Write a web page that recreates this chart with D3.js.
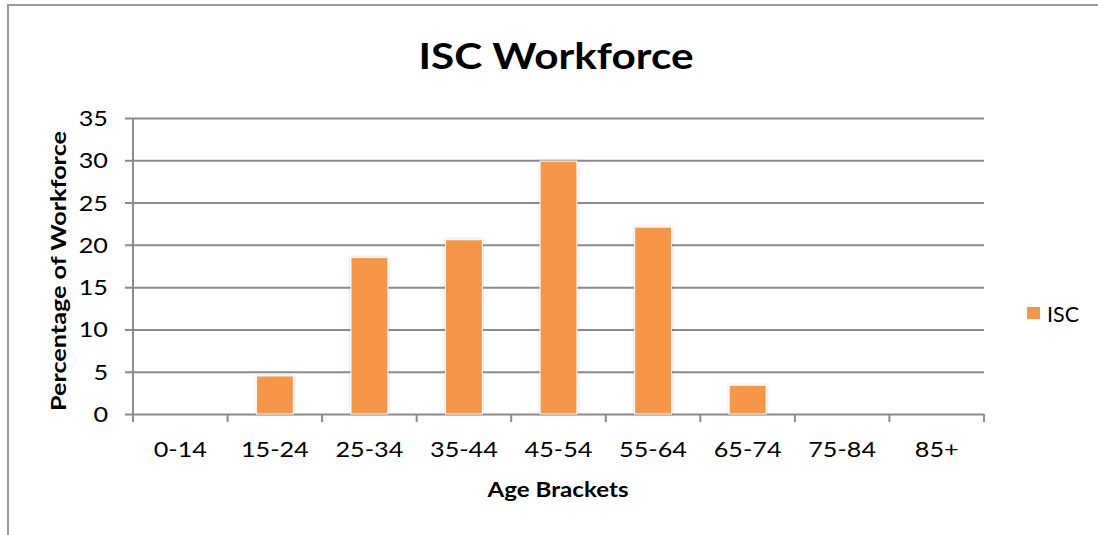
<!DOCTYPE html>
<html>
<head>
<meta charset="utf-8">
<script src="https://cdn.jsdelivr.net/npm/d3@7"></script>
<style>
  body { margin: 0; background: #fff; }
  text { font-family: Lato, "Open Sans", sans-serif; fill: #000; }
</style>
</head>
<body>
<svg id="chart" width="1098" height="535"></svg>
<script>
// data
const categories = ['0-14', '15-24', '25-34', '35-44', '45-54', '55-64', '65-74', '75-84', '85+']
const iscValues = [0, 4.5, 18.5, 20.6, 29.9, 22.1, 3.4, 0, 0]
const yTicks = [0, 5, 10, 15, 20, 25, 30, 35]

const svg = d3.select('#chart')
const margin = { left: 133, right: 1098 - 984, top: 118, bottom: 535 - 414 }
const width = 1098, height = 535
const gridColor = '#8a8a8a'

// the original font runs wider than Lato, so stretch text a bit
function widen(sel, factor) {
  sel.each(function() {
    let len = this.getComputedTextLength()
    d3.select(this).attr('textLength', len * factor).attr('lengthAdjust', 'spacingAndGlyphs')
  })
}

// chart frame
svg.append('path')
  .attr('d', 'M8,540 L8,5 L1110,5')
  .attr('fill', 'none')
  .attr('stroke', '#9a9a9a')
  .attr('stroke-width', 2)

let x = d3.scaleBand()
  .domain(categories)
  .range([margin.left, width - margin.right])
  .paddingInner(0.61)
  .paddingOuter(0.305)

let y = d3.scaleLinear()
  .domain([0, 35])
  .range([height - margin.bottom, margin.top])

// gridlines + y ticks
let yAxis = d3.axisLeft(y).tickValues(yTicks).tickPadding(6)
  .tickSizeInner(-(width - margin.right - margin.left))
svg.append('g')
  .attr('transform', `translate(${margin.left},0)`)
  .call(yAxis)
  .call(g => g.select('.domain').remove())
  .call(g => g.selectAll('.tick line').attr('stroke', gridColor).attr('stroke-width', 2)
    .attr('x1', -8))
  .call(g => g.selectAll('.tick text').attr('font-size', 21).attr('x', -25).attr('dy', '0.36em')
    .attr('font-family', 'Lato, sans-serif'))
  .call(g => widen(g.selectAll('.tick text'), 1.2))

// vertical axis line
svg.append('line')
  .attr('x1', margin.left).attr('x2', margin.left)
  .attr('y1', margin.top).attr('y2', y(0))
  .attr('stroke', gridColor).attr('stroke-width', 2)

// category tick marks at band boundaries
let step = x.step()
let bounds = d3.range(categories.length + 1).map(i => margin.left + i * step)
svg.append('g').selectAll('line')
  .data(bounds)
  .enter().append('line')
  .attr('x1', d => d).attr('x2', d => d)
  .attr('y1', y(0)).attr('y2', y(0) + 8)
  .attr('stroke', gridColor).attr('stroke-width', 2)

// x labels
let xl = svg.append('g').selectAll('text')
  .data(categories)
  .enter().append('text')
  .attr('x', d => x(d) + x.bandwidth() / 2)
  .attr('y', 457)
  .attr('text-anchor', 'middle')
  .attr('font-size', 21)
  .text(d => d)
widen(xl, 1.2)

// soft shadow for bars
let defs = svg.append('defs')
let f = defs.append('filter').attr('id', 'shadow')
  .attr('x', '-20%').attr('y', '-10%').attr('width', '140%').attr('height', '120%')
f.append('feDropShadow')
  .attr('dx', 0).attr('dy', 0).attr('stdDeviation', 1.5)
  .attr('flood-color', '#000').attr('flood-opacity', 0.18)

svg.append('g').selectAll('rect')
  .data(iscValues.map((v, i) => ({ cat: categories[i], v: v })).filter(d => d.v > 0))
  .enter().append('rect')
  .attr('x', d => x(d.cat))
  .attr('y', d => y(d.v))
  .attr('width', x.bandwidth())
  .attr('height', d => y(0) - y(d.v))
  .attr('fill', '#f79646')
  .attr('stroke', '#fff')
  .attr('stroke-width', 1)
  .attr('filter', 'url(#shadow)')

// titles
svg.append('text')
  .attr('x', 556).attr('y', 69)
  .attr('text-anchor', 'middle')
  .attr('font-size', 36)
  .attr('font-weight', 'bold')
  .attr('textLength', 275).attr('lengthAdjust', 'spacingAndGlyphs')
  .text('ISC Workforce')

svg.append('text')
  .attr('x', 558).attr('y', 497)
  .attr('text-anchor', 'middle')
  .attr('font-size', 21)
  .attr('font-weight', 'bold')
  .attr('textLength', 141).attr('lengthAdjust', 'spacingAndGlyphs')
  .text('Age Brackets')

svg.append('text')
  .attr('transform', 'translate(66,271) rotate(-90)')
  .attr('text-anchor', 'middle')
  .attr('font-size', 21)
  .attr('font-weight', 'bold')
  .attr('textLength', 280).attr('lengthAdjust', 'spacingAndGlyphs')
  .text('Percentage of Workforce')

// legend
svg.append('rect')
  .attr('x', 1027).attr('y', 307)
  .attr('width', 13).attr('height', 12)
  .attr('fill', '#f79646')
svg.append('text')
  .attr('x', 1047).attr('y', 322)
  .attr('font-size', 22)
  .attr('textLength', 32).attr('lengthAdjust', 'spacingAndGlyphs')
  .text('ISC')
</script>
</body>
</html>
